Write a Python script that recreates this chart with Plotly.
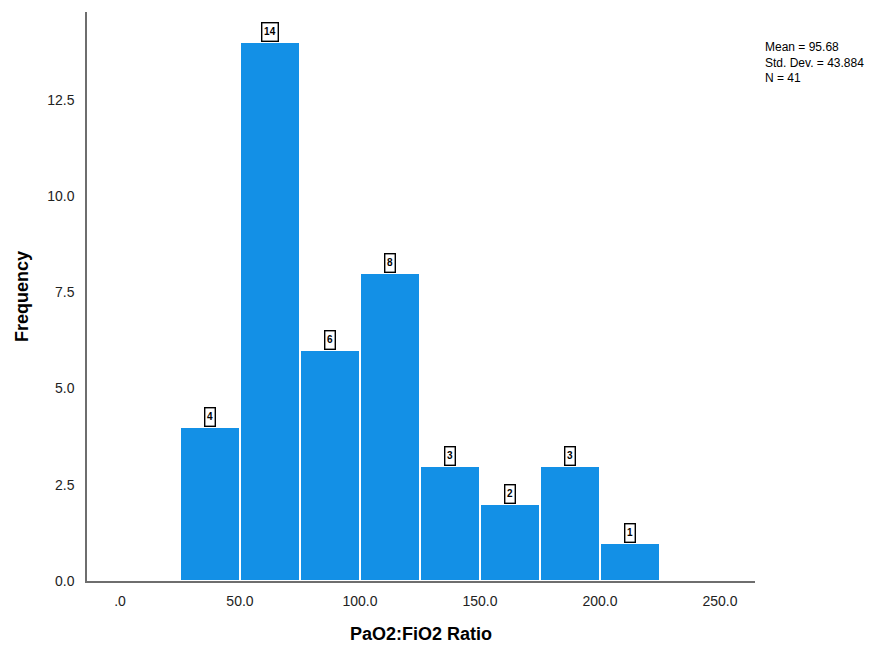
import plotly.graph_objects as go

# Histogram of PaO2:FiO2 ratio, bins of width 25
bin_edges = [25, 50, 75, 100, 125, 150, 175, 200, 225]
counts = [4, 14, 6, 8, 3, 2, 3, 1]
x_tick_vals = [0, 50, 100, 150, 200, 250]
x_tick_text = [".0", "50.0", "100.0", "150.0", "200.0", "250.0"]
y_tick_vals = [0, 2.5, 5.0, 7.5, 10.0, 12.5]
y_tick_text = ["0.0", "2.5", "5.0", "7.5", "10.0", "12.5"]
stats_lines = ["Mean = 95.68", "Std. Dev. = 43.884", "N = 41"]

centers = [(a + b) / 2 for a, b in zip(bin_edges[:-1], bin_edges[1:])]
widths = [b - a for a, b in zip(bin_edges[:-1], bin_edges[1:])]

fig = go.Figure()
fig.add_trace(go.Bar(
    x=centers, y=counts, width=widths,
    marker=dict(color="#1390E6", line=dict(color="#FFFFFF", width=2)),
    hoverinfo="x+y",
))

# count labels in small framed boxes above each bar
for cx, c in zip(centers, counts):
    fig.add_annotation(
        x=cx, y=c, text="<b>%d</b>" % c, showarrow=False, yanchor="bottom", yshift=0,
        font=dict(family="Arial Narrow, Liberation Sans Narrow, Arial", size=10, color="#000000"),
        width=6 * len(str(c)) + 1, height=15,
        bordercolor="#000000", borderwidth=1.4, borderpad=1, bgcolor="#FFFFFF",
    )

fig.add_annotation(
    xref="paper", yref="paper", x=1.012, y=0.955, xanchor="left", yanchor="top",
    text="<br>".join(stats_lines), align="left", showarrow=False,
    font=dict(family="Arial", size=12, color="#000000"),
)

fig.update_layout(
    width=888, height=659,
    margin=dict(l=87, r=133, t=12, b=78),
    paper_bgcolor="#FFFFFF", plot_bgcolor="#FFFFFF",
    showlegend=False, bargap=0,
    xaxis=dict(
        range=[-13.75, 264.6], tickvals=x_tick_vals, ticktext=x_tick_text,
        showgrid=False, zeroline=False, showline=True, linecolor="#6E6E6E", linewidth=1.5,
        ticks="", ticklabelstandoff=6,
        tickfont=dict(family="Arial", size=14, color="#222222"),
        title=dict(text="<b>PaO2:FiO2 Ratio</b>", standoff=20,
                   font=dict(family="Arial", size=18, color="#000000")),
    ),
    yaxis=dict(
        range=[0, 14.78], tickvals=y_tick_vals, ticktext=y_tick_text,
        showgrid=False, zeroline=False, showline=True, linecolor="#6E6E6E", linewidth=1.5,
        ticks="", ticklabelstandoff=8,
        tickfont=dict(family="Arial", size=14, color="#222222"),
        title=dict(text="<b>Frequency</b>", standoff=14,
                   font=dict(family="Arial", size=18, color="#000000")),
    ),
)

fig.write_html("out.html")
